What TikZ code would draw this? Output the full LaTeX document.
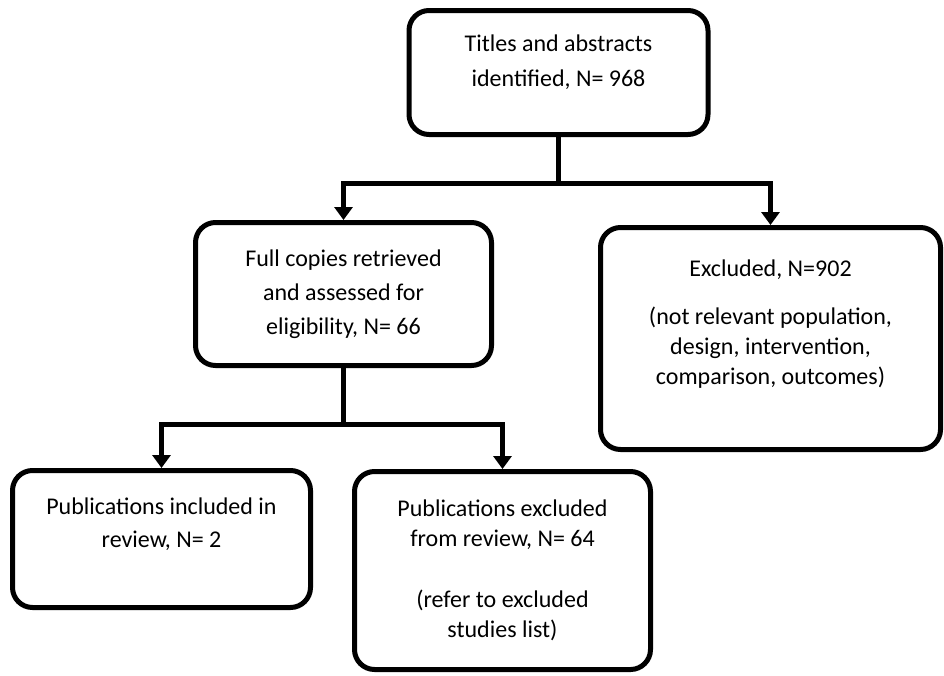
\documentclass[tikz,border=0pt]{standalone}
\usepackage{fontspec}
\setmainfont{Carlito}
\usetikzlibrary{arrows.meta}

\tikzset{
  flowbox/.style={draw, line width=5pt, rounded corners=20pt, align=center,
    inner sep=0pt, font=\fontsize{24}{#1}\selectfont},
  flowbox/.default=31,
  flowarrow/.style={line width=5pt, -{Triangle[width=18pt,length=13pt]}},
}

\begin{document}
\begin{tikzpicture}[x=1pt,y=-1pt]
  \useasboundingbox (0,0) rectangle (944,675);

  % boxes
  \node[flowbox=35, minimum width=299pt, minimum height=124pt] (titles) at (558.5,72.5)
    {Titles and abstracts\\identified, N= 968\\[-12pt]\mbox{}};
  \node[flowbox=34, minimum width=296pt, minimum height=143pt] (fullcopies) at (343.5,294)
    {Full copies retrieved\\and assessed for\\eligibility, N= 66};
  \node[flowbox=30, minimum width=340pt, minimum height=222pt] (excluded) at (770.5,338.5)
    {Excluded, N=902\\[18pt](not relevant population,\\design, intervention,\\comparison, outcomes)\\[2pt]\mbox{}};
  \node[flowbox=33, minimum width=298pt, minimum height=137pt] (included) at (161.5,539)
    {Publications included in\\review, N= 2\\ \mbox{}};
  \node[flowbox=30, minimum width=296pt, minimum height=198pt] (pubexcl) at (502.5,570.5)
    {Publications excluded\\from review, N= 64\\[31pt](refer to excluded\\studies list)};

  % connectors
  \draw[line width=5pt] (titles.south) -- ++(0,46) coordinate (split1);
  \draw[flowarrow] (split1) -| (fullcopies.north);
  \draw[flowarrow] (split1) -| (excluded.north);

  \draw[line width=5pt] (fullcopies.south) -- ++(0,56) coordinate (split2);
  \draw[flowarrow] (split2) -| (included.north);
  \draw[flowarrow] (split2) -| (pubexcl.north);
\end{tikzpicture}
\end{document}
